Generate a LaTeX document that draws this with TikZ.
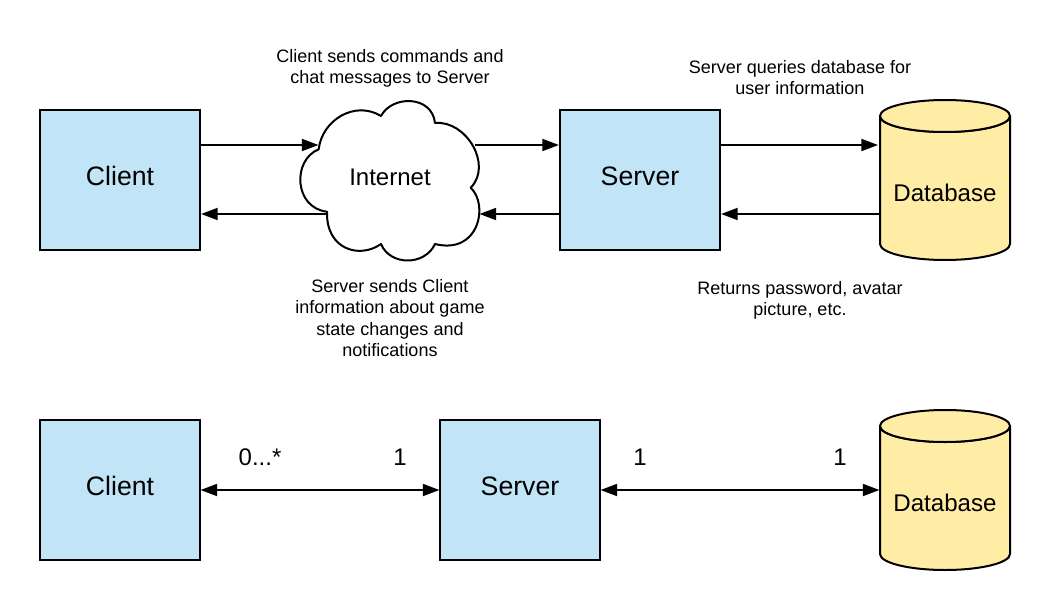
\documentclass[tikz,border=0pt]{standalone}
\usepackage{fontspec}
\setmainfont{Liberation Sans}
\usetikzlibrary{arrows.meta}
\definecolor{boxblue}{HTML}{C1E4F7}
\definecolor{dbyellow}{HTML}{FFEDA6}
\tikzset{
  x=0.75pt,y=-0.75pt,
  every node/.style={inner sep=0pt,outer sep=0pt},
  boxnode/.style={draw=black,line width=1.5pt,fill=boxblue,minimum width=120pt,minimum height=105pt},
  boxtext/.style={font=\fontsize{20}{24}\selectfont},
  dbnode/.style={minimum width=97.5pt,minimum height=100.5pt,font=\fontsize{18.1}{22}\selectfont},
  cloudtext/.style={font=\fontsize{18}{22}\selectfont},
  note/.style={align=center,font=\fontsize{13.5}{16}\selectfont},
  mult/.style={font=\fontsize{18}{22}\selectfont},
  conn/.style={line width=1.5pt,draw=black},
  tipend/.style={-{Triangle[length=12.5pt,width=9pt]}},
  tipbox/.style={-{Triangle[length=12.5pt,width=9pt]},shorten >=0.8pt},
  tipboth/.style={{Triangle[length=12.5pt,width=9pt]}-{Triangle[length=12.5pt,width=9pt]},shorten >=0.4pt,shorten <=0.4pt},
  shapeline/.style={line width=1.5pt,draw=black,line join=round}
}
\newcommand{\dbshape}[1]{%
  \draw[shapeline,fill=dbyellow] (880,#1+16) arc[start angle=180,end angle=360,x radius=65pt*0.75,y radius=12pt]
    -- (1010,#1+144) arc[start angle=0,end angle=-180,x radius=65pt*0.75,y radius=12pt] -- cycle;
  \draw[shapeline,fill=dbyellow] (945,#1+16) ellipse[x radius=65pt*0.75,y radius=12pt];
}
\begin{document}
\begin{tikzpicture}
\useasboundingbox (0,0) rectangle (1050,610);
% top row
\node[boxnode] (client) at (120,180) {};
\node[boxtext] (clientlabel) at (120,176) {Client};
\node[boxnode] (server) at (640,180) {};
\node[boxtext] (serverlabel) at (640,176.5) {Server};
\dbshape{100}
\node[dbnode] (db) at (945,193) {Database};
\draw[shapeline,fill=white]
  (318.7,149.3) .. controls (322,120) and (355,100) .. (381,116)
  .. controls (392,95) and (432,95) .. (435,123)
  .. controls (466,120) and (493,165) .. (470.7,187.7)
  .. controls (489,205) and (479,255) .. (435,244)
  .. controls (425,266) and (390,266) .. (381,244)
  .. controls (360,259) and (326,250) .. (327,211.7)
  .. controls (294,208) and (292,160) .. cycle;
\node[cloudtext] (internet) at (390,177) {Internet};
\coordinate (cloudinA) at (318.5,145);
\coordinate (cloudoutA) at (475,145);
\coordinate (cloudinB) at (479.5,214);
\coordinate (cloudoutB) at (327,214);
\draw[conn,tipend] (client.east |- cloudinA) -- (cloudinA);
\draw[conn,tipbox] (cloudoutA) -- (server.west |- cloudoutA);
\draw[conn,tipend] (server.west |- cloudinB) -- (cloudinB);
\draw[conn,tipbox] (cloudoutB) -- (client.east |- cloudoutB);
\coordinate (dbinA) at (878,145);
\coordinate (dboutB) at (880,214);
\draw[conn,tipend] (server.east |- dbinA) -- (dbinA);
\draw[conn,tipbox] (dboutB) -- (server.east |- dboutB);
\node[note] (n1) at (390,68.5) {Client sends commands and\\chat messages to Server};
\node[note] (n2) at (800,77.5) {Server queries database for\\user information};
\node[note] (n3) at (390,318) {Server sends Client\\information about game\\state changes and\\notifications};
\node[note] (n4) at (800,300.5) {Returns password, avatar\\picture, etc.};
% bottom row
\node[boxnode] (client2) at (120,490) {};
\node[boxtext] (client2label) at (120,486) {Client};
\node[boxnode] (server2) at (520,490) {};
\node[boxtext] (server2label) at (520,486.5) {Server};
\dbshape{410}
\node[dbnode] (db2) at (945,503) {Database};
\draw[conn,tipboth] (client2.east) -- (server2.west);
\draw[conn,tipboth] (server2.east) -- (db2.west |- server2.east);
\node[mult] (m1) at (260,457) {0...*};
\node[mult] (m2) at (400,457) {1};
\node[mult] (m3) at (640,457) {1};
\node[mult] (m4) at (840,457) {1};
\end{tikzpicture}
\end{document}
